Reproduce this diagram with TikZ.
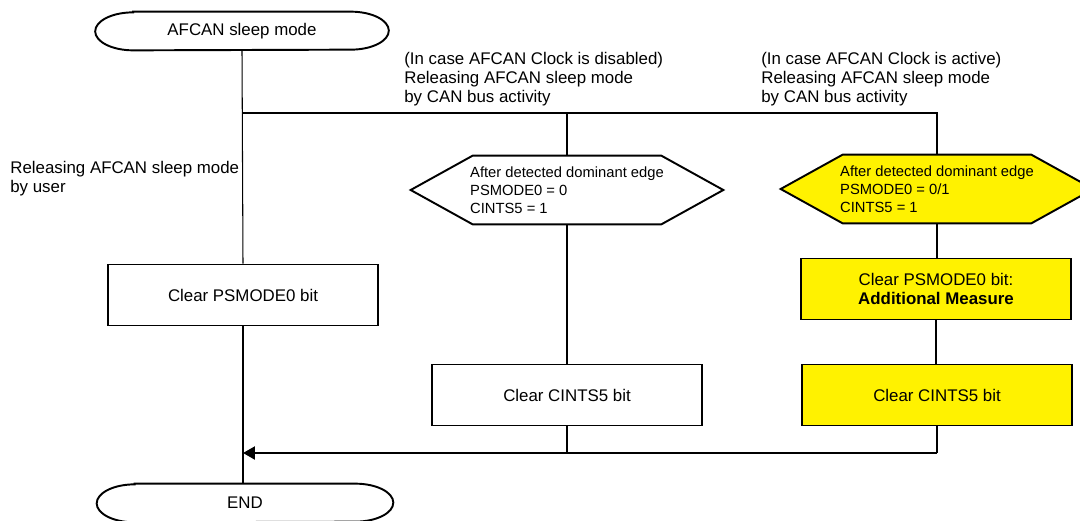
\documentclass[tikz,border=0pt]{standalone}
\usepackage{fontspec}
\setmainfont{Liberation Sans}
\usepackage{tikz}
\usetikzlibrary{
  arrows.meta,
  positioning,
  calc
}

\begin{document}
\begin{tikzpicture}[x=0.02cm, y=-0.02cm,
    every node/.style={font=\fontsize{9.6pt}{10.8pt}\selectfont},
    flowline/.style={line width=0.6pt},
    boxline/.style={line width=1.1pt},
    procbox/.style={draw, line width=1.1pt, minimum width=5.4cm, minimum height=1.22cm, align=center},
    hexlabel/.style={minimum width=6.24cm, minimum height=1.36cm, inner sep=0pt, align=left,
      font=\fontsize{8.4pt}{10.2pt}\selectfont},
    note/.style={anchor=north west, inner sep=0pt, align=left}]
    \useasboundingbox (0,0) rectangle (1080,521);

    % Start / end
    \node[minimum width=5.86cm, minimum height=0.76cm] (start) at (242,31) {AFCAN sleep mode};
    \draw[boxline] ([xshift=0.76cm]start.north west) -- ([xshift=-0.76cm]start.north east)
        arc[start angle=90, end angle=-90, x radius=0.76cm, y radius=0.38cm]
        -- ([xshift=0.76cm]start.south west)
        arc[start angle=270, end angle=90, x radius=0.76cm, y radius=0.38cm] -- cycle;
    \node[minimum width=5.92cm, minimum height=0.76cm] (stop) at (245,503) {END};
    \draw[boxline] ([xshift=0.76cm]stop.north west) -- ([xshift=-0.76cm]stop.north east)
        arc[start angle=90, end angle=-90, x radius=0.76cm, y radius=0.38cm]
        -- ([xshift=0.76cm]stop.south west)
        arc[start angle=270, end angle=90, x radius=0.76cm, y radius=0.38cm] -- cycle;

    % Notes
    \node[note] (userlbl) at (10,161) {Releasing AFCAN sleep mode\\by user};
    \node[note] (offlbl) at (404,52) {(In case AFCAN Clock is disabled)\\Releasing AFCAN sleep mode\\by CAN bus activity};
    \node[note] (onlbl) at (761,52) {(In case AFCAN Clock is active)\\Releasing AFCAN sleep mode\\by CAN bus activity};

    % Release by user
    \node[procbox] (clruser) at (243,295) {Clear PSMODE0 bit};

    % Clock disabled
    \node[hexlabel] (hexoff) at (567,190) {After detected dominant edge\\PSMODE0 = 0\\CINTS5 = 1};
    \draw[boxline] (hexoff.west) -- ([xshift=1.24cm]hexoff.north west) -- ([xshift=-1.24cm]hexoff.north east)
        -- (hexoff.east) -- ([xshift=-1.24cm]hexoff.south east) -- ([xshift=1.24cm]hexoff.south west) -- cycle;
    \node[procbox] (cintsoff) at (567,395) {Clear CINTS5 bit};

    % Clock active
    \node[hexlabel] (hexon) at (937,189) {};
    \fill[yellow] (hexon.west) -- ([xshift=1.24cm]hexon.north west) -- ([xshift=-1.24cm]hexon.north east)
        -- (hexon.east) -- ([xshift=-1.24cm]hexon.south east) -- ([xshift=1.24cm]hexon.south west) -- cycle;
    \node[hexlabel] at (hexon) {After detected dominant edge\\PSMODE0 = 0/1\\CINTS5 = 1};
    \draw[boxline] (hexon.west) -- ([xshift=1.24cm]hexon.north west) -- ([xshift=-1.24cm]hexon.north east)
        -- (hexon.east) -- ([xshift=-1.24cm]hexon.south east) -- ([xshift=1.24cm]hexon.south west) -- cycle;
    \node[procbox, fill=yellow] (clron) at (936,289) {Clear PSMODE0 bit:\\\textbf{Additional Measure}};
    \node[procbox, fill=yellow] (cintson) at (937,395) {Clear CINTS5 bit};

    % Connectors
    \coordinate (split) at (243,113);
    \coordinate (merge) at (243,453);
    \draw[flowline] (start.south) -- (clruser.north);
    \draw[flowline] (clruser.south) -- (clruser.south |- stop.north);
    \draw[flowline] (split) -| (hexon.north);
    \draw[flowline] (hexoff.north |- split) -- (hexoff.north);
    \draw[flowline] (hexoff.south) -- (cintsoff.north);
    \draw[flowline] (hexon.south) -- (hexon.south |- clron.north);
    \draw[flowline] (clron.south) -- (clron.south |- cintson.north);
    \draw[flowline] (cintsoff.south) -- (cintsoff.south |- merge);
    \draw[flowline] (cintson.south) -- (cintson.south |- merge);
    \draw[line width=1.3pt, -{Triangle[length=0.24cm, width=0.26cm]}] (cintson.south |- merge) -- (merge);
  \end{tikzpicture}
\end{document}
